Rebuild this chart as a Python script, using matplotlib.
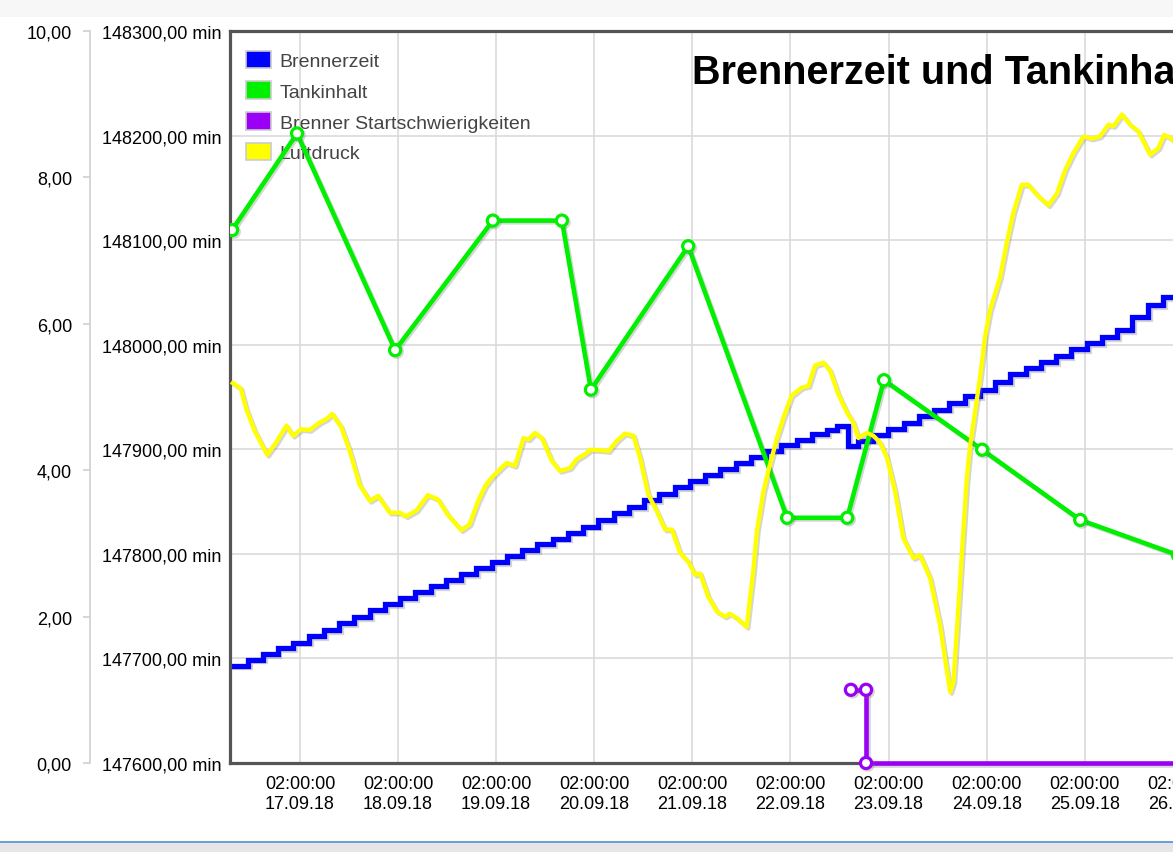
import matplotlib
matplotlib.use('Agg')
import matplotlib.pyplot as plt
import matplotlib.dates as mdates
import matplotlib.ticker as mticker
import matplotlib.patheffects as pe
from matplotlib.patches import Patch, Rectangle
from matplotlib.lines import Line2D
import pandas as pd

plt.rcParams['font.family'] = ['Liberation Sans', 'DejaVu Sans']

# all times are hours after the left edge of the plot
start = pd.Timestamp('2018-09-16 08:53')
end_hours = 237.3

# Brennerzeit (min), stepwise counter
brenner_h = [0.0, 4.4, 8.1, 11.7, 15.4, 19.3, 23.0, 26.7, 30.3, 34.3,
             37.9, 41.6, 45.3, 49.2, 52.8, 56.5, 60.2, 64.1, 67.8, 71.4,
             75.1, 79.0, 82.7, 86.4, 90.0, 93.9, 97.6, 101.3, 105.0, 108.9,
             112.6, 116.2, 119.9, 123.8, 127.5, 131.2, 134.8, 138.7, 142.4, 146.1,
             148.5, 151.2, 153.6, 157.3, 161.0, 164.9, 168.6, 172.2, 175.9, 179.8,
             183.5, 187.2, 190.8, 194.7, 198.4, 202.1, 205.7, 209.7, 213.3, 217.0,
             220.7, 224.6, 228.3, 236.0]
brenner_min = [147693.1, 147698.9, 147704.2, 147709.5, 147715.2, 147721.0, 147727.2, 147733.5, 147739.7, 147745.9,
               147752.2, 147757.5, 147763.2, 147769.0, 147774.8, 147780.5, 147786.3, 147792.0, 147797.8, 147803.6,
               147809.3, 147814.6, 147820.4, 147826.1, 147832.4, 147838.6, 147844.8, 147851.1, 147857.3, 147863.6,
               147869.8, 147875.6, 147881.3, 147887.1, 147892.9, 147898.6, 147903.9, 147909.2, 147914.5, 147918.8,
               147922.6, 147903.4, 147908.2, 147914.0, 147919.8, 147925.5, 147931.8, 147938.0, 147944.2, 147950.5,
               147956.7, 147963.9, 147971.6, 147977.4, 147983.1, 147988.9, 147995.6, 148001.4, 148007.1, 148013.9,
               148026.3, 148037.9, 148045.5, 148045.5]

# Tankinhalt
tank_h = [0.5, 16.4, 40.4, 64.3, 81.2, 88.3, 112.1, 136.3, 151.0, 160.0, 184.0, 208.0, 231.9]
tank_val = [7.28, 8.60, 5.64, 7.41, 7.41, 5.10, 7.06, 3.35, 3.35, 5.23, 4.28, 3.32, 2.84]

# Brenner Startschwierigkeiten
stoer_h = [151.9, 155.6, 155.6, 240.0]
stoer_val = [1, 1, 0, 0]

# Luftdruck (scaled)
luft_h = [0.7, 2.6, 4.0, 6.0, 9.1, 11.3, 13.8, 15.4, 17.4, 19.5,
          21.9, 23.6, 25.0, 27.2, 29.3, 31.7, 34.2, 36.2, 39.1, 41.5,
          43.1, 45.6, 48.4, 50.9, 53.3, 56.6, 58.6, 60.7, 62.4, 64.0,
          66.9, 67.7, 69.7, 71.8, 73.0, 74.6, 76.3, 78.7, 80.7, 83.2,
          84.8, 86.9, 88.1, 91.3, 92.6, 94.6, 96.6, 98.7, 100.3, 102.3,
          104.4, 106.4, 108.1, 110.1, 112.1, 113.8, 115.0, 117.0, 119.1, 121.1,
          122.3, 124.0, 126.4, 128.0, 128.9, 130.5, 131.7, 133.8, 135.4, 137.4,
          139.9, 141.5, 143.1, 145.2, 146.8, 148.8, 150.9, 152.5, 153.7, 155.8,
          157.4, 159.0, 160.7, 162.7, 164.7, 167.2, 168.8, 171.3, 173.7, 175.3,
          176.2, 177.0, 178.6, 180.2, 181.0, 183.5, 184.7, 185.9, 188.4, 190.0,
          191.6, 193.7, 195.3, 197.8, 200.2, 202.3, 204.3, 206.3, 208.8, 210.8,
          212.8, 214.9, 216.1, 218.2, 220.2, 222.2, 225.1, 227.1, 228.5, 230.0,
          232.4]
luft_val = [5.19, 5.12, 4.83, 4.54, 4.21, 4.38, 4.61, 4.47, 4.56, 4.55,
            4.65, 4.70, 4.77, 4.59, 4.26, 3.80, 3.58, 3.65, 3.42, 3.42,
            3.37, 3.45, 3.66, 3.60, 3.39, 3.18, 3.26, 3.58, 3.78, 3.90,
            4.06, 4.10, 4.06, 4.44, 4.42, 4.51, 4.44, 4.13, 3.99, 4.03,
            4.15, 4.22, 4.28, 4.27, 4.26, 4.40, 4.50, 4.47, 4.17, 3.67,
            3.44, 3.19, 3.19, 2.87, 2.75, 2.57, 2.59, 2.27, 2.07, 2.00,
            2.04, 1.98, 1.86, 2.62, 3.17, 3.71, 3.99, 4.44, 4.72, 5.02,
            5.13, 5.15, 5.43, 5.47, 5.36, 5.04, 4.79, 4.65, 4.44, 4.51,
            4.47, 4.38, 4.17, 3.71, 3.07, 2.80, 2.84, 2.52, 1.88, 1.29,
            0.97, 1.11, 2.48, 3.85, 4.31, 5.27, 5.82, 6.18, 6.64, 7.10,
            7.51, 7.90, 7.90, 7.74, 7.62, 7.78, 8.10, 8.33, 8.56, 8.53,
            8.56, 8.72, 8.70, 8.86, 8.72, 8.63, 8.31, 8.40, 8.58, 8.54,
            8.42]

min_ticks = [147600, 147700, 147800, 147900, 148000, 148100, 148200, 148300]
val_ticks = [0, 2, 4, 6, 8, 10]
day_ticks = pd.date_range('2018-09-17 02:00', periods=10, freq='D')

legend_labels = ['Brennerzeit', 'Tankinhalt', 'Brenner Startschwierigkeiten', 'Luftdruck']
c_blue, c_green, c_purple, c_yellow = '#0000ff', '#00f000', '#9a00f5', '#ffff00'


def to_time(hours):
    return (start + pd.to_timedelta(hours, unit='h')).to_numpy()


def de_fmt(v, unit=''):
    return f'{v:.2f}'.replace('.', ',') + unit


W, H = 1173, 853
fig = plt.figure(figsize=(W / 100, H / 100), dpi=100)
fig.patch.set_facecolor('white')

# browser chrome bits at top and bottom
fig.patches.append(Rectangle((0, 1 - 18 / H), 1, 18 / H, transform=fig.transFigure,
                             facecolor='#f7f7f7', edgecolor='none', zorder=-5))
fig.patches.append(Rectangle((0, 0), 1, 10 / H, transform=fig.transFigure,
                             facecolor='#e6e6e6', edgecolor='none', zorder=-5))
fig.add_artist(Line2D([0, 1], [10 / H, 10 / H], transform=fig.transFigure,
                      color='#4f8fd6', lw=1.2))

left, right, top, bottom = 230, 1200, 32, 764
ax = fig.add_axes([left / W, 1 - bottom / H, (right - left) / W, (bottom - top) / H])
ax.set_facecolor('white')

shadow = [pe.SimpleLineShadow(offset=(1.2, -1.2), shadow_color='#777777', alpha=0.3), pe.Normal()]

# Brennerzeit on the minutes axis
ax.plot(to_time(brenner_h), brenner_min, drawstyle='steps-post', color=c_blue,
        lw=3.8, solid_joinstyle='miter', path_effects=shadow)
ax.set_ylim(147600, 148300)
ax.set_xlim(to_time([0.0])[0], to_time([end_hours])[0])

ax.set_yticks(min_ticks)
ax.yaxis.set_major_formatter(mticker.FuncFormatter(lambda v, p: de_fmt(v, ' min')))
ax.tick_params(axis='y', length=0, pad=6, labelsize=13)

ax.set_xticks(day_ticks.to_numpy())
ax.xaxis.set_major_formatter(mdates.DateFormatter('%H:%M:%S\n%d.%m.%y'))
ax.tick_params(axis='x', length=0, pad=9, labelsize=13)

ax.grid(True, color='#dadada', lw=1.2)
ax.set_axisbelow(True)
for s in ['left', 'top', 'bottom']:
    ax.spines[s].set_color('#555555')
    ax.spines[s].set_linewidth(2.3)
ax.spines['right'].set_visible(False)

# second axis (0..10), labels on the far left
ax2 = ax.twinx()
ax2.set_ylim(0, 10)
ax2.plot(to_time(tank_h), tank_val, color=c_green, lw=3.3, marker='o', ms=8,
         mfc='white', mec=c_green, mew=2.3, path_effects=shadow)
ax2.plot(to_time(stoer_h), stoer_val, color=c_purple, lw=3.3, marker='o', ms=8,
         mfc='white', mec=c_purple, mew=2.3, markevery=[0, 1, 2], clip_on=False,
         zorder=5, path_effects=shadow)
ax2.plot(to_time(luft_h), luft_val, color=c_yellow, lw=3.1, solid_joinstyle='round',
         path_effects=shadow)

ax2.set_yticks(val_ticks)
ax2.yaxis.set_major_formatter(mticker.FuncFormatter(lambda v, p: de_fmt(v)))
ax2.yaxis.tick_left()
ax2.spines['left'].set_position(('outward', 100.8))
ax2.spines['left'].set_visible(True)
ax2.spines['left'].set_color('#d0d0d0')
ax2.spines['left'].set_linewidth(1.2)
for s in ['right', 'top', 'bottom']:
    ax2.spines[s].set_visible(False)
ax2.tick_params(axis='y', length=5, width=1.2, color='#d0d0d0', pad=8, labelsize=13)

# legend
handles = [Patch(facecolor=c, edgecolor='#cccccc', lw=1.2, label=l)
           for c, l in zip([c_blue, c_green, c_purple, c_yellow], legend_labels)]
ax.legend(handles=handles, loc='upper left', bbox_to_anchor=(0, 0.9945), frameon=False,
          fontsize=14, labelcolor='#444444', handlelength=1.3, handleheight=1.0,
          handletextpad=0.45, labelspacing=0.59, borderaxespad=0, borderpad=0.8)

fig.text(692 / W, 1 - 84 / H, 'Brennerzeit und Tankinhalt', fontsize=28.5,
         fontweight='bold', ha='left', va='baseline', color='black')

fig.savefig('out.png', dpi=100)
